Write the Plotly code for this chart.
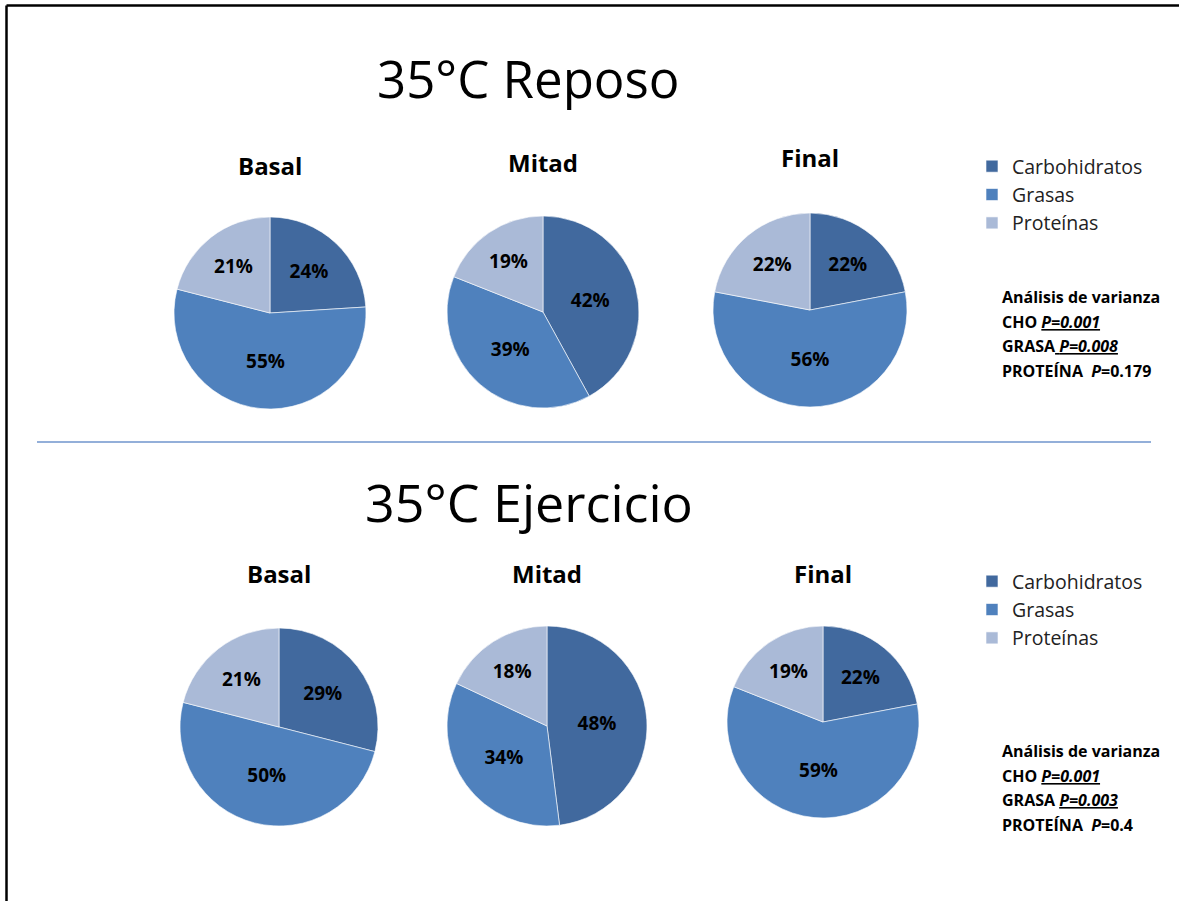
import plotly.graph_objects as go

# Fuel source shares (%) at 35 °C, rest and exercise
categories = ["Carbohidratos", "Grasas", "Proteínas"]
phases = ["Basal", "Mitad", "Final"]

reposo_basal = [24, 55, 21]
reposo_mitad = [42, 39, 19]
reposo_final = [22, 56, 22]

ejercicio_basal = [29, 50, 21]
ejercicio_mitad = [48, 34, 18]
ejercicio_final = [22, 59, 19]

section_titles = ["35°C Reposo", "35°C Ejercicio"]
anova_reposo = ["Análisis de varianza",
                "CHO <i><u>P=0.001</u></i>",
                "GRASA<u> <i>P=0.008</i></u>",
                "PROTEÍNA  <i>P</i>=0.179"]
anova_ejercicio = ["Análisis de varianza",
                   "CHO <i><u>P=0.001</u></i>",
                   "GRASA <i><u>P=0.003</u></i>",
                   "PROTEÍNA  <i>P</i>=0.4"]

colors = ["#41699E", "#4F81BD", "#AABAD7"]
FONT = "'Open Sans', Lato, sans-serif"
W, H = 1179, 901

# pixel centre and radius for each pie: (cx, cy, r)
pie_geom = {
    ("reposo", 0): (270, 313, 96),
    ("reposo", 1): (543, 312, 96),
    ("reposo", 2): (810, 310, 97),
    ("ejercicio", 0): (279, 727, 99),
    ("ejercicio", 1): (547, 726, 100),
    ("ejercicio", 2): (823, 722, 96),
}
title_y = {"reposo": [165, 163, 157], "ejercicio": [573, 573, 573]}

series = {
    "reposo": [reposo_basal, reposo_mitad, reposo_final],
    "ejercicio": [ejercicio_basal, ejercicio_mitad, ejercicio_final],
}

# pie legends merge items by label, so the second block gets its own
# (visually identical) label strings to populate the second legend
block_labels = {
    "reposo": categories,
    "ejercicio": [c + "\u200b" for c in categories],
}

fig = go.Figure()
annotations = []

for block, legend_id in (("reposo", "legend"), ("ejercicio", "legend2")):
    for i, vals in enumerate(series[block]):
        cx, cy, r = pie_geom[(block, i)]
        fig.add_trace(go.Pie(
            labels=block_labels[block],
            values=vals,
            sort=False,
            direction="clockwise",
            rotation=0,
            marker=dict(colors=colors, line=dict(color="white", width=0.6)),
            texttemplate="<b>%{value}%</b>",
            textposition="inside",
            insidetextorientation="horizontal",
            textfont=dict(family=FONT, size=19, color="black"),
            hoverinfo="label+value",
            showlegend=(i == 0),
            legend=legend_id,
            domain=dict(x=[(cx - r) / W, (cx + r) / W],
                        y=[1 - (cy + r) / H, 1 - (cy - r) / H]),
        ))
        annotations.append(dict(
            text=f"<b>{phases[i]}</b>", x=cx / W, y=1 - title_y[block][i] / H,
            xref="paper", yref="paper", showarrow=False,
            xanchor="center", yanchor="middle",
            font=dict(family=FONT, size=24, color="black"),
        ))

# section headings
annotations.append(dict(text=section_titles[0], x=528 / W, y=1 - 78 / H,
                        xref="paper", yref="paper", showarrow=False,
                        xanchor="center", yanchor="middle",
                        font=dict(family=FONT, size=51, color="black")))
annotations.append(dict(text=section_titles[1], x=529 / W, y=1 - 501 / H,
                        xref="paper", yref="paper", showarrow=False,
                        xanchor="center", yanchor="middle",
                        font=dict(family=FONT, size=52, color="black")))

# ANOVA notes
for lines, y0 in ((anova_reposo, 297), (anova_ejercicio, 751)):
    for k, line in enumerate(lines):
        annotations.append(dict(
            text=f"<b>{line}</b>", x=1000 / W, y=1 - (y0 + k * 24.5) / H,
            xref="paper", yref="paper", showarrow=False,
            xanchor="left", yanchor="middle",
            font=dict(family=FONT, size=16, color="black"),
        ))

shapes = [
    # frame (top and left edges)
    dict(type="line", xref="paper", yref="paper",
         x0=6.5 / W, x1=1.0, y0=1 - 5.5 / H, y1=1 - 5.5 / H,
         line=dict(color="black", width=2.5)),
    dict(type="line", xref="paper", yref="paper",
         x0=6.5 / W, x1=6.5 / W, y0=0, y1=1 - 5.5 / H,
         line=dict(color="black", width=2.5)),
    # divider between sections
    dict(type="line", xref="paper", yref="paper",
         x0=37 / W, x1=1151 / W, y0=1 - 442 / H, y1=1 - 442 / H,
         line=dict(color="#6F95CC", width=1.5)),
]

legend_style = dict(
    font=dict(family=FONT, size=19.5, color="#222"),
    bgcolor="rgba(0,0,0,0)", borderwidth=0,
    xanchor="left", yanchor="top", tracegroupgap=0,
)

fig.update_layout(
    width=W, height=H,
    margin=dict(l=0, r=0, t=0, b=0),
    paper_bgcolor="white", plot_bgcolor="white",
    annotations=annotations,
    shapes=shapes,
    legend=dict(x=972 / W, y=1 - 147 / H, **legend_style),
    legend2=dict(x=972 / W, y=1 - 562 / H, **legend_style),
)

fig.write_html("out.html")
